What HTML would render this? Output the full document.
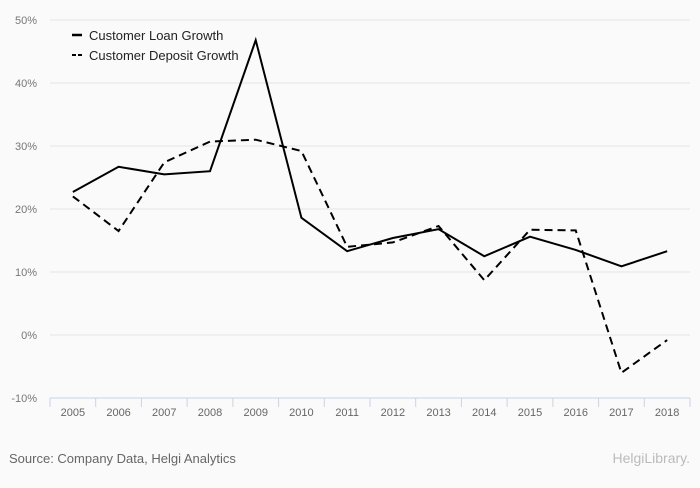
<!DOCTYPE html>
<html><head><meta charset="utf-8"><style>
body{margin:0;background:#fafafa;font-family:"Liberation Sans",sans-serif;}
svg text{font-family:"Liberation Sans",sans-serif;}
</style></head><body>
<svg id="chart" width="700" height="483" xmlns="http://www.w3.org/2000/svg">
<rect width="700" height="483" fill="#fafafa"/>
<g id="grid"></g>
<g id="yaxis"></g>
<g id="xaxis"></g>
<g id="series"></g>
<g>
<line x1="72" y1="35" x2="82" y2="35" stroke="#000" stroke-width="2.5"/>
<text x="89" y="40" font-size="13" fill="#222">Customer Loan Growth</text>
<line x1="72" y1="55" x2="82" y2="55" stroke="#000" stroke-width="2" stroke-dasharray="4,2"/>
<text x="89" y="60" font-size="13" fill="#222">Customer Deposit Growth</text>
</g>
<text x="9" y="463" font-size="13" fill="#666">Source: Company Data, Helgi Analytics</text>
<text x="690" y="463" font-size="14" fill="#bbb" text-anchor="end">HelgiLibrary.</text>
</svg>
<script>
const years=["2005","2006","2007","2008","2009","2010","2011","2012","2013","2014","2015","2016","2017","2018"];
const loanGrowth=[22.7,26.7,25.5,26.0,46.8,18.6,13.3,15.4,16.8,12.5,15.6,13.5,10.9,13.3];
const depositGrowth=[22.0,16.5,27.4,30.7,31.0,29.2,14.0,14.7,17.3,8.7,16.7,16.6,-6.0,-0.8];
const yTicks=[-10,0,10,20,30,40,50];
const NS="http://www.w3.org/2000/svg";
const L=50,R=690,band=(R-L)/years.length;
const x=i=>L+band*(i+0.5);
const y=v=>335-v*6.3;
function mk(t,a,p){const e=document.createElementNS(NS,t);for(const k in a)e.setAttribute(k,a[k]);p.appendChild(e);return e;}
const grid=document.getElementById('grid'),ya=document.getElementById('yaxis'),xa=document.getElementById('xaxis'),se=document.getElementById('series');
yTicks.forEach(v=>{
  if(v>-10){const g=mk('line',{x1:L,x2:R,y1:y(v),y2:y(v),stroke:'#e4e4e4','stroke-width':1},grid);
  
  }
  const t=mk('text',{x:37,y:y(v)+4,'font-size':11,fill:'#777','text-anchor':'end'},ya);
  t.textContent=v+'%';
  
  
});
mk('line',{x1:L,x2:R,y1:y(-10),y2:y(-10),stroke:'#c8d4e6','stroke-width':1},xa);
for(let i=0;i<=years.length;i++){mk('line',{x1:L+band*i,x2:L+band*i,y1:y(-10),y2:y(-10)+9,stroke:'#c8d4e6'},xa);}
years.forEach((yr,i)=>{const t=mk('text',{x:x(i),y:416,'font-size':11,fill:'#666','text-anchor':'middle'},xa);
  t.textContent=yr;
  
  });
const p1=mk('polyline',{points:loanGrowth.map((v,i)=>x(i)+','+y(v)).join(' '),fill:'none',stroke:'#000','stroke-width':2},se);


const p2=mk('polyline',{points:depositGrowth.map((v,i)=>x(i)+','+y(v)).join(' '),fill:'none',stroke:'#000','stroke-width':2,'stroke-dasharray':'8,5'},se);


</script>
</body></html>
